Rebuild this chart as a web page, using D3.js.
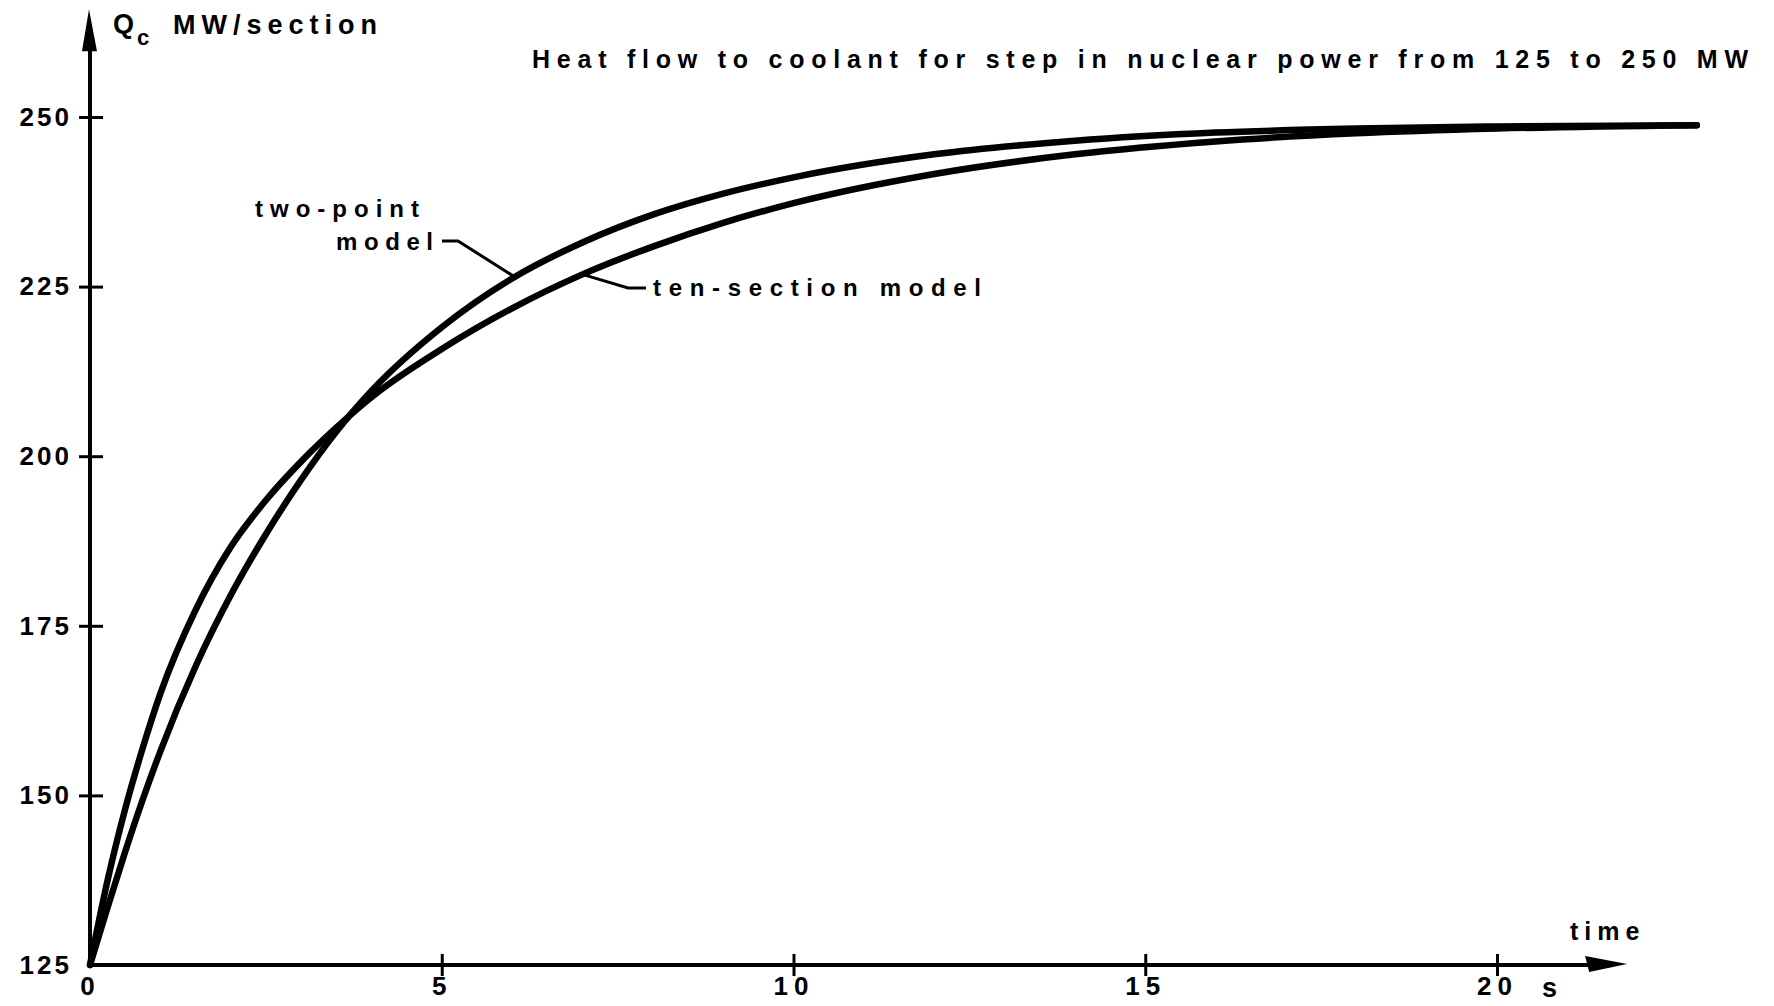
<!DOCTYPE html>
<html>
<head>
<meta charset="utf-8">
<script src="https://cdn.jsdelivr.net/npm/d3@7"></script>
<style>
    body { margin: 0; background: #fff; }
    text { font-family: "Liberation Sans", Arial, sans-serif; font-weight: bold; fill: #000; }
</style>
</head>
<body>
<div id="chart"></div>
<script>
// time in s, heat flow to coolant in MW/section
const times = [0, 0.25, 0.5, 0.75, 1, 1.5, 2, 2.5, 3, 3.5, 4, 5, 6, 7, 8, 9, 10, 12, 14, 16, 18, 20, 22.84];
const twoPoint = [125, 133.5, 141.7, 149.4, 156.5, 169, 179.5, 188.5, 196.5, 203.6, 209.6, 219, 226.2, 231.5, 235.6, 238.7, 241.1, 244.5, 246.5, 247.7, 248.3, 248.6, 248.8];
const tenSection = [125, 137.5, 148, 157, 165, 177.3, 186.6, 193.5, 199.2, 204.2, 208.7, 215.8, 221.8, 226.8, 230.9, 234.4, 237.3, 241.6, 244.5, 246.4, 247.6, 248.3, 248.8];
const xTicks = [0, 5, 10, 15, 20];
const yTicks = [125, 150, 175, 200, 225, 250];

const width = 1774;
const height = 1006;

const svg = d3.select("#chart")
    .append("svg")
    .attr("width", width)
    .attr("height", height);

const x = d3.scaleLinear().domain([0, 20]).range([90, 1497]);
const y = d3.scaleLinear().domain([125, 250]).range([965, 117]);

// axes with arrows
const xEnd = x(21.85);
const yTop = y(265.9);

svg.append("line")
    .attr("x1", x(0)).attr("y1", y(125))
    .attr("x2", xEnd - 20).attr("y2", y(125))
    .attr("stroke", "#000").attr("stroke-width", 4);
svg.append("path")
    .attr("d", `M${xEnd},${y(125) - 1} L${xEnd - 42},${y(125) - 9} L${xEnd - 38},${y(125) + 7} Z`)
    .attr("fill", "#000");

svg.append("line")
    .attr("x1", x(0)).attr("y1", y(125) + 2)
    .attr("x2", x(0)).attr("y2", yTop + 20)
    .attr("stroke", "#000").attr("stroke-width", 4);
svg.append("path")
    .attr("d", `M${x(0) - 1},${yTop} L${x(0) - 8},${yTop + 42} L${x(0) + 7},${yTop + 42} Z`)
    .attr("fill", "#000");

// ticks crossing the axes
const xAxis = svg.append("g")
    .attr("transform", `translate(0,${y(125)})`)
    .call(d3.axisBottom(x).tickValues(xTicks).tickSize(0).tickFormat(d3.format("d")));
xAxis.select(".domain").remove();
xAxis.selectAll(".tick line")
    .filter(d => d !== 0)
    .attr("y1", -11).attr("y2", 11)
    .attr("stroke", "#000").attr("stroke-width", 3);
xAxis.selectAll(".tick text")
    .attr("y", 12)
    .attr("dy", "0.71em")
    .attr("font-size", 26)
    .attr("font-family", null)
    .style("letter-spacing", "6px");

const yAxis = svg.append("g")
    .attr("transform", `translate(${x(0)},0)`)
    .call(d3.axisLeft(y).tickValues(yTicks).tickSize(0));
yAxis.select(".domain").remove();
yAxis.selectAll(".tick line")
    .filter(d => d !== 125)
    .attr("x1", -11).attr("x2", 13)
    .attr("stroke", "#000").attr("stroke-width", 3);
yAxis.selectAll(".tick text")
    .attr("x", -18)
    .attr("font-size", 26)
    .attr("font-family", null)
    .style("letter-spacing", "3px");

// curves
const line = d3.line()
    .x((d, i) => x(times[i]))
    .y(d => y(d))
    .curve(d3.curveMonotoneX);

svg.append("path")
    .datum(tenSection)
    .attr("d", line)
    .attr("fill", "none")
    .attr("stroke", "#000")
    .attr("stroke-width", 6.5)
    .attr("stroke-linecap", "round");

svg.append("path")
    .datum(twoPoint)
    .attr("d", line)
    .attr("fill", "none")
    .attr("stroke", "#000")
    .attr("stroke-width", 6.5)
    .attr("stroke-linecap", "round");

// axis titles
svg.append("text")
    .attr("x", 113).attr("y", 33)
    .attr("font-size", 27)
    .text("Q");
svg.append("text")
    .attr("x", 137).attr("y", 45)
    .attr("font-size", 22)
    .text("c");
svg.append("text")
    .attr("x", 173).attr("y", 34)
    .attr("font-size", 27)
    .attr("textLength", 204)
    .attr("lengthAdjust", "spacing")
    .text("MW/section");

svg.append("text")
    .attr("x", 1570).attr("y", 940)
    .attr("font-size", 25)
    .style("letter-spacing", "6px")
    .text("time");

svg.append("text")
    .attr("x", 1542).attr("y", 997)
    .attr("font-size", 27)
    .text("s");

svg.append("text")
    .attr("x", 532).attr("y", 68)
    .attr("font-size", 25)
    .attr("textLength", 1216)
    .attr("lengthAdjust", "spacing")
    .text("Heat flow to coolant for step in nuclear power from 125 to 250 MW");

// curve labels with pointers
svg.append("text")
    .attr("x", 255).attr("y", 217)
    .attr("font-size", 24)
    .attr("textLength", 164)
    .attr("lengthAdjust", "spacing")
    .text("two-point");
svg.append("text")
    .attr("x", 336).attr("y", 250)
    .attr("font-size", 24)
    .attr("textLength", 97)
    .attr("lengthAdjust", "spacing")
    .text("model");

const tpT = 6.04;
const tpV = twoPoint[12] + (twoPoint[13] - twoPoint[12]) * (tpT - 6);
svg.append("path")
    .attr("d", `M442,241 L458,241 L${x(tpT)},${y(tpV)}`)
    .attr("fill", "none").attr("stroke", "#000").attr("stroke-width", 3);

svg.append("text")
    .attr("x", 653).attr("y", 296)
    .attr("font-size", 24)
    .attr("textLength", 328)
    .attr("lengthAdjust", "spacing")
    .text("ten-section  model");

const tsT = 7.0;
const tsV = tenSection[13];
svg.append("path")
    .attr("d", `M646,288 L628,288 L${x(tsT)},${y(tsV)}`)
    .attr("fill", "none").attr("stroke", "#000").attr("stroke-width", 3);
</script>
</body>
</html>
